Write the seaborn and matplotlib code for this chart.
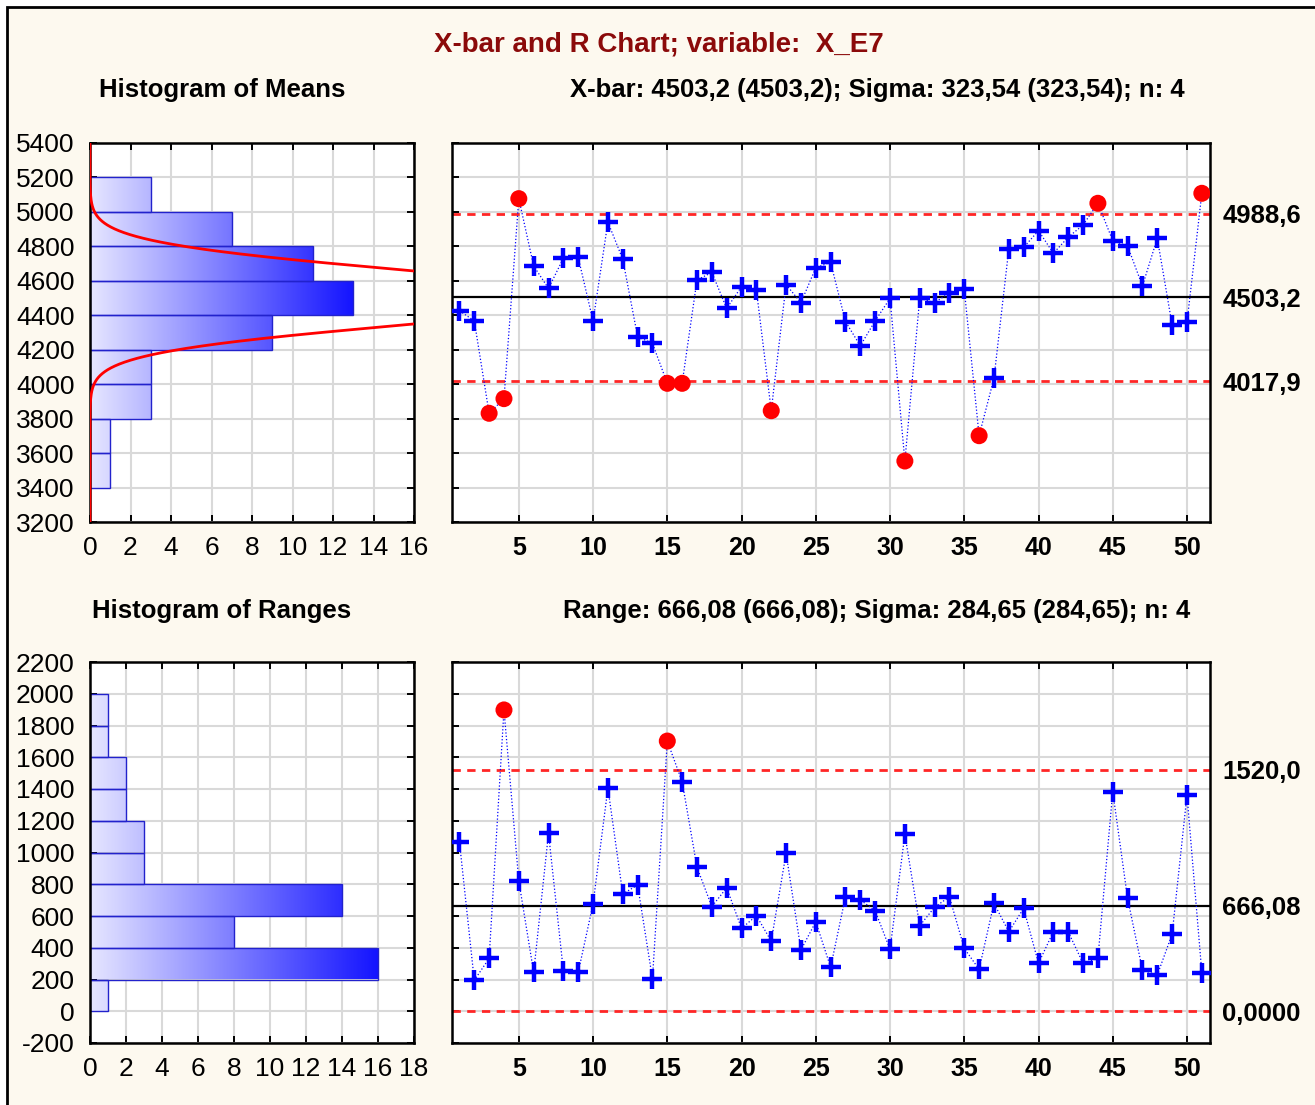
import numpy as np
import pandas as pd
import matplotlib
matplotlib.use("Agg")
import matplotlib.pyplot as plt
import seaborn as sns
from matplotlib.colors import LinearSegmentedColormap
from matplotlib.patches import Rectangle

# ---- data -----------------------------------------------------------------
sample = list(range(1, 52))

xbar_values = [
    4426, 4368, 3831, 3916, 5077, 4686, 4556, 4731, 4736, 4367,
    4941, 4725, 4276, 4237, 4005, 4005, 4605, 4649, 4440, 4566,
    4547, 3846, 4578, 4473, 4676, 4707, 4363, 4223, 4368, 4498,
    3554, 4498, 4473, 4531, 4551, 3701, 4034, 4785, 4794, 4891,
    4760, 4853, 4924, 5050, 4833, 4802, 4570, 4847, 4343, 4359,
    5108,
]

range_values = [
    1068, 195, 333, 1898, 820, 245, 1121, 255, 245, 676,
    1406, 739, 795, 205, 1702, 1446, 907, 659, 778, 522,
    602, 442, 995, 386, 564, 277, 721, 701, 633, 390,
    1114, 539, 655, 721, 396, 264, 680, 501, 648, 302,
    501, 501, 302, 333, 1383, 711, 260, 228, 486, 1362,
    243,
]

xbar_center = 4503.2
xbar_ucl = 4988.6
xbar_lcl = 4017.9
xbar_sigma = 323.54
group_n = 4

range_center = 666.08
range_ucl = 1520.0
range_lcl = 0.0

xbar_limit_labels = ["4017,9", "4503,2", "4988,6"]
range_limit_labels = ["0,0000", "666,08", "1520,0"]

main_title = "X-bar and R Chart; variable:  X_E7"
xbar_header = "X-bar: 4503,2 (4503,2); Sigma: 323,54 (323,54); n: 4"
range_header = "Range: 666,08 (666,08); Sigma: 284,65 (284,65); n: 4"
means_hist_title = "Histogram of Means"
ranges_hist_title = "Histogram of Ranges"

bin_width = 200

# ---- styling ----------------------------------------------------------------
sns.set_theme(style="white")
plt.rcParams["font.family"] = ["Liberation Sans", "DejaVu Sans"]
plt.rcParams["axes.linewidth"] = 1.6
plt.rcParams["axes.unicode_minus"] = False
plt.rcParams["text.color"] = "black"
plt.rcParams["xtick.labelcolor"] = "black"
plt.rcParams["ytick.labelcolor"] = "black"

W, H = 1315, 1105
fig = plt.figure(figsize=(W / 100, H / 100), dpi=100, facecolor="white")

# cream panel with a black frame (runs off the right and bottom edges)
fig.patches.append(Rectangle((7 / W, -0.02), 1.05, 1 - 7 / H + 0.02,
                             transform=fig.transFigure, facecolor="#fdf9ef",
                             edgecolor="black", lw=2, zorder=-10))

def px_axes(left, top, right, bottom):
    return fig.add_axes([left / W, 1 - bottom / H, (right - left) / W, (bottom - top) / H])

ax_hm = px_axes(90, 143, 414, 522)
ax_x = px_axes(452, 143, 1210, 522)
ax_hr = px_axes(90, 662, 414, 1043)
ax_r = px_axes(452, 662, 1210, 1043)

grid_color = "#d9d9d9"
bar_cmap = LinearSegmentedColormap.from_list("bar_grad", ["#e6e6ff", "#1414ff"])


def style_axes(ax):
    ax.set_facecolor("white")
    ax.set_axisbelow(True)
    ax.grid(True, color=grid_color, lw=1.5)
    for s in ax.spines.values():
        s.set_color("black")
        s.set_linewidth(1.8)
    ax.tick_params(direction="in", length=5, width=1.4, color="black",
                   labelcolor="black",
                   top=True, right=True, bottom=True, left=True)
    ax.set_xlabel("")
    ax.set_ylabel("")


def gradient_hist(ax, values, lo, hi, xmax, ylim):
    sns.histplot(y=values, binwidth=bin_width, binrange=(lo, hi), ax=ax,
                 stat="count", element="bars", fill=True, color="#1414ff",
                 edgecolor="#2222cc", linewidth=1.0, alpha=1)
    bars = [p for p in ax.patches if p.get_width() > 0]
    top = max(p.get_width() for p in bars)
    grad = np.linspace(0, 1, 256).reshape(1, -1)
    for p in bars:
        y0, h = p.get_y(), p.get_height()
        im = ax.imshow(grad, cmap=bar_cmap, extent=[0, top, y0, y0 + h],
                       aspect="auto", origin="lower", zorder=1,
                       interpolation="bilinear")
        im.set_clip_path(p)
        p.set_facecolor("none")
        p.set_zorder(2)
    ax.set_xlim(0, xmax)
    ax.set_ylim(*ylim)
    ax.set_xticks(np.arange(0, xmax + 1, 2))
    ax.set_yticks(np.arange(ylim[0], ylim[1] + 1, 200))
    style_axes(ax)
    ax.tick_params(labelsize=19, pad=10)
    ax.tick_params(axis="y", pad=11)


def control_chart(ax, values, cl, ucl, lcl, ylim, limit_labels):
    df = pd.DataFrame({"sample": sample, "value": values})
    df["out"] = (df["value"] > ucl) | (df["value"] < lcl)

    ax.axhline(ucl, color="#ff2626", lw=2, ls=(0, (3, 2.3)), zorder=2)
    ax.axhline(lcl, color="#ff2626", lw=2, ls=(0, (3, 2.3)), zorder=2)
    ax.axhline(cl, color="black", lw=1.6, zorder=2)

    sns.lineplot(data=df, x="sample", y="value", color="blue", lw=0.9,
                 ls=":", estimator=None, ax=ax, zorder=3)
    sns.scatterplot(data=df[~df["out"]], x="sample", y="value", marker="+",
                    s=220, linewidth=3.2, color="blue", ax=ax, zorder=4)
    sns.scatterplot(data=df[df["out"]], x="sample", y="value", marker="o",
                    s=150, color="red", edgecolor="none", ax=ax, zorder=5)

    ax.set_xlim(0.5, 51.55)
    ax.set_ylim(*ylim)
    ax.set_xticks(np.arange(5, 51, 5))
    ax.set_yticks(np.arange(ylim[0], ylim[1] + 1, 200))
    style_axes(ax)
    ax.tick_params(labelleft=False, labelsize=18, pad=10)
    for lab in ax.get_xticklabels():
        lab.set_fontweight("bold")

    twin = ax.twinx()
    twin.set_ylim(*ylim)
    twin.set_yticks([lcl, cl, ucl])
    twin.set_yticklabels(limit_labels, fontsize=18.5, fontweight="bold",
                         color="black")
    twin.tick_params(axis="y", length=0, pad=9)
    twin.grid(False)
    for s in twin.spines.values():
        s.set_visible(False)


# ---- histogram of means with fitted normal curve ---------------------------
gradient_hist(ax_hm, xbar_values, 3400, 5200, 16, (3200, 5400))
yy = np.linspace(3200, 5400, 800)
sd_mean = xbar_sigma / np.sqrt(group_n)
expected = (len(xbar_values) * bin_width *
            np.exp(-0.5 * ((yy - xbar_center) / sd_mean) ** 2) /
            (sd_mean * np.sqrt(2 * np.pi)))
sns.lineplot(x=expected, y=yy, orient="y", sort=False, estimator=None,
             color="red", lw=2, ax=ax_hm, zorder=3)
ax_hm.set_xlabel("")
ax_hm.set_ylabel("")

# ---- histogram of ranges ------------------------------------------------------
gradient_hist(ax_hr, range_values, 0, 2000, 18, (-200, 2200))

# ---- control charts -------------------------------------------------------------
control_chart(ax_x, xbar_values, xbar_center, xbar_ucl, xbar_lcl,
              (3200, 5400), xbar_limit_labels)
control_chart(ax_r, range_values, range_center, range_ucl, range_lcl,
              (-200, 2200), range_limit_labels)

# ---- titles ---------------------------------------------------------------------
fig.text(659 / W, 1 - 45 / H, main_title, ha="center", va="center",
         fontsize=20, fontweight="bold", color="#8b0a0a")
fig.text(222 / W, 1 - 90 / H, means_hist_title, ha="center", va="center",
         fontsize=18.5, fontweight="bold", color="black")
fig.text(877 / W, 1 - 90 / H, xbar_header, ha="center", va="center",
         fontsize=18.5, fontweight="bold", color="black")
fig.text(222 / W, 1 - 611 / H, ranges_hist_title, ha="center", va="center",
         fontsize=18.5, fontweight="bold", color="black")
fig.text(877 / W, 1 - 611 / H, range_header, ha="center", va="center",
         fontsize=18.5, fontweight="bold", color="black")

fig.savefig("out.png", dpi=100, facecolor="white")
